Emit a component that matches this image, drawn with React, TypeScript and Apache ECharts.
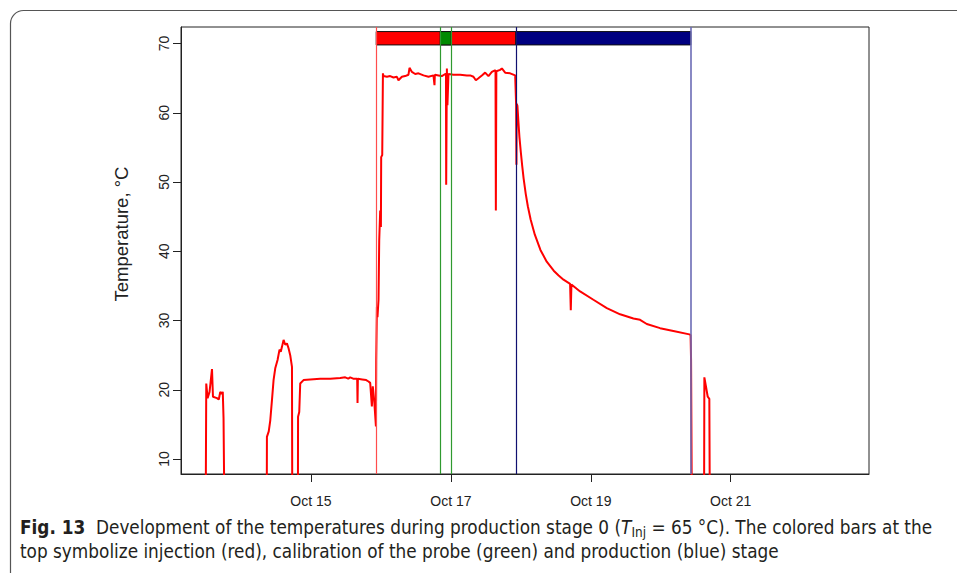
import React, { useEffect, useRef } from 'react';
import * as echarts from 'echarts';

// Time in days of October (decimal), temperature in °C. Values of 5 mean the probe was off (below the axis).
const days = [
  13.497, 13.504, 13.523, 13.551, 13.586, 13.600, 13.657, 13.683, 13.704, 13.726, 13.740, 13.751, 13.761,
  14.369, 14.371, 14.397, 14.419, 14.443, 14.466, 14.490, 14.523, 14.551, 14.569, 14.586, 14.609, 14.633, 14.657, 14.680, 14.704, 14.729, 14.733,
  14.814, 14.816, 14.833, 14.847, 14.894, 14.990, 15.133, 15.276, 15.419, 15.490, 15.533, 15.561, 15.604, 15.661, 15.666, 15.671, 15.733, 15.790, 15.823, 15.847, 15.871, 15.884, 15.904, 15.929,
  15.933, 15.943, 15.951, 15.966, 15.976, 15.990, 16.000, 16.004, 16.019, 16.029,
  16.037, 16.086, 16.133, 16.180, 16.229, 16.251, 16.300, 16.347, 16.394, 16.409, 16.443, 16.490, 16.537, 16.609, 16.680, 16.751, 16.761, 16.766, 16.771, 16.823, 16.871, 16.919, 16.930, 16.933, 16.943, 16.951, 16.966,
  17.037, 17.133, 17.229, 17.276, 17.323, 17.357, 17.394, 17.443, 17.490, 17.537, 17.586, 17.623, 17.638, 17.643, 17.650, 17.704, 17.729, 17.776, 17.847, 17.919, 17.933, 17.937, 17.941,
  17.951, 17.966, 17.980, 18.000, 18.020, 18.040, 18.070, 18.100, 18.140, 18.200, 18.280, 18.370, 18.470, 18.540, 18.610, 18.704, 18.714, 18.723, 18.847, 19.037, 19.229, 19.419, 19.609, 19.704, 19.800, 19.990, 20.180, 20.409, 20.426, 20.433, 20.443,
  20.619, 20.623, 20.647, 20.671, 20.694, 20.700,
];
const temps = [
  5, 20.9, 18.8, 19.7, 23.0, 19.0, 18.8, 18.6, 19.7, 19.4, 19.7, 15.9, 5,
  5, 13.2, 14.0, 15.6, 18.5, 21.4, 23.1, 24.3, 25.8, 25.5, 26.2, 27.2, 26.5, 26.7, 26.0, 25.0, 23.3, 5,
  5, 16.1, 16.8, 20.9, 21.4, 21.5, 21.6, 21.6, 21.7, 21.8, 21.6, 21.8, 21.6, 21.6, 18.1, 21.6, 21.5, 21.4, 21.2, 21.0, 17.6, 20.5, 18.5, 14.7,
  24.3, 32.0, 30.5, 33.0, 41.6, 45.9, 43.5, 53.6, 53.9, 65.7,
  65.3, 65.2, 65.3, 65.1, 65.2, 64.7, 65.2, 65.3, 65.5, 66.5, 65.9, 65.6, 65.7, 65.4, 65.2, 65.4, 65.4, 64.0, 65.5, 65.4, 65.3, 65.6, 65.6, 49.6, 66.4, 61.1, 65.6,
  65.5, 65.5, 65.4, 65.4, 65.2, 64.7, 65.0, 65.4, 65.8, 65.3, 65.9, 66.1, 66.1, 45.9, 66.0, 66.2, 66.4, 65.8, 65.7, 65.4, 61.1, 52.5, 61.3,
  61.0, 58.6, 56.5, 54.3, 52.3, 50.5, 48.3, 46.5, 44.6, 42.4, 40.2, 38.5, 37.2, 36.5, 35.9, 35.3, 31.5, 35.2, 34.2, 33.0, 31.8, 30.9, 30.3, 30.1, 29.5, 28.9, 28.5, 28.0, 27.9, 24.3, 5,
  5, 21.8, 20.4, 19.0, 18.7, 5,
];

const xTicks = [15, 17, 19, 21];
const xTickLabels = ['Oct 15', 'Oct 17', 'Oct 19', 'Oct 21'];
const yTicks = [10, 20, 30, 40, 50, 60, 70];

const stageNames = ['injection', 'calibration', 'production'];
const stageStarts = [15.933, 16.847, 17.929];
const stageEnds = [17.929, 17.004, 20.429];
const stageBarLow = 69.8;
const stageBarHigh = 71.73;
const stageLines = [15.933, 16.847, 17.004, 17.929, 20.429];

export default function App() {
  const ref = useRef<HTMLDivElement>(null);

  useEffect(() => {
    const chart = echarts.init(ref.current!, null, { renderer: 'svg' });
    const barColors = ['#ff0000', '#008a00', '#000080'];
    const lineColors = ['#ff4d4d', '#2f9a2f', '#2f9a2f', '#101070', '#6b6bb5'];
    const seriesData = days.map((d, i) => [d, temps[i]]);
    const font = "'Liberation Sans', Arial, sans-serif";
    const capFont = "'Liberation Sans Narrow', 'DejaVu Sans Condensed', sans-serif";

    chart.setOption({
      animation: false,
      backgroundColor: '#ffffff',
      grid: {
        left: 181, top: 27, right: 88, bottom: 99,
        show: true, borderColor: '#222', borderWidth: 1, backgroundColor: 'transparent',
      },
      xAxis: {
        type: 'value', min: 13.143, max: 22.976,
        splitLine: { show: false },
        axisLine: { show: true, lineStyle: { color: '#222' } },
        axisTick: { show: true, customValues: xTicks, length: 8, lineStyle: { color: '#222' } },
        axisLabel: {
          customValues: xTicks,
          formatter: (v: number) => {
            const idx = xTicks.findIndex((t) => Math.abs(t - v) < 1e-6);
            return idx >= 0 ? xTickLabels[idx] : '';
          },
          margin: 20, fontSize: 14, color: '#222', fontFamily: font,
        },
      },
      yAxis: {
        type: 'value', min: 7.84, max: 72.39,
        splitLine: { show: false },
        axisLine: { show: true, lineStyle: { color: '#222' } },
        axisTick: { show: true, customValues: yTicks, length: 8, lineStyle: { color: '#222' } },
        axisLabel: {
          customValues: yTicks, rotate: 90, margin: 10, fontSize: 14, color: '#222', fontFamily: font,
        },
      },
      series: [
        {
          type: 'line',
          data: seriesData,
          showSymbol: false,
          symbol: 'none',
          clip: true,
          lineStyle: { color: '#ff0000', width: 2 },
          z: 2,
        },
        {
          type: 'line',
          data: [],
          silent: true,
          z: 3,
          markLine: {
            silent: true,
            symbol: 'none',
            label: { show: false },
            data: stageLines.map((x, i) => ({ xAxis: x, lineStyle: { color: lineColors[i], width: i === 4 ? 1.6 : 1.2, type: 'solid' } })),
          },
          markArea: {
            silent: true,
            label: { show: false },
            data: stageStarts.map((s, i) => [
              { name: stageNames[i], xAxis: s, yAxis: stageBarLow, itemStyle: { color: barColors[i], borderColor: '#111', borderWidth: 1, opacity: 1 } },
              { xAxis: stageEnds[i], yAxis: stageBarHigh },
            ]),
          },
        },
      ],
      graphic: [
        {
          type: 'rect',
          shape: { x: 10.5, y: 10.5, width: 1000, height: 700, r: 13 },
          style: { fill: 'none', stroke: '#555', lineWidth: 1.2 },
          silent: true,
        },
        {
          type: 'text',
          x: 121, y: 234, rotation: Math.PI / 2,
          style: {
            text: 'Temperature, °C', fontSize: 18.5, fill: '#222', fontFamily: font,
            align: 'center', verticalAlign: 'middle',
          },
        },
        {
          type: 'text',
          x: 20, y: 515,
          style: {
            text: '{b|Fig. 13}  Development of the temperatures during production stage 0 ({i|T}{s|Inj} = 65 °C). The colored bars at the\ntop symbolize injection (red), calibration of the probe (green) and production (blue) stage',
            fontSize: 18.8, fill: '#231f20', lineHeight: 24,
            fontFamily: capFont,
            rich: {
              b: { fontWeight: 'bold', fontSize: 18.8, fill: '#231f20', lineHeight: 24, fontFamily: capFont },
              i: { fontStyle: 'italic', fontSize: 18.8, fill: '#231f20', lineHeight: 24, fontFamily: capFont },
              s: { fontSize: 13.5, fill: '#231f20', lineHeight: 14, verticalAlign: 'bottom', fontFamily: capFont },
            },
          },
        },
      ],
    });

    return () => chart.dispose();
  }, []);

  return (
    <div
      ref={ref}
      style={{ position: 'fixed', left: 0, top: 0, width: 957, height: 573, background: '#fff' }}
    />
  );
}
